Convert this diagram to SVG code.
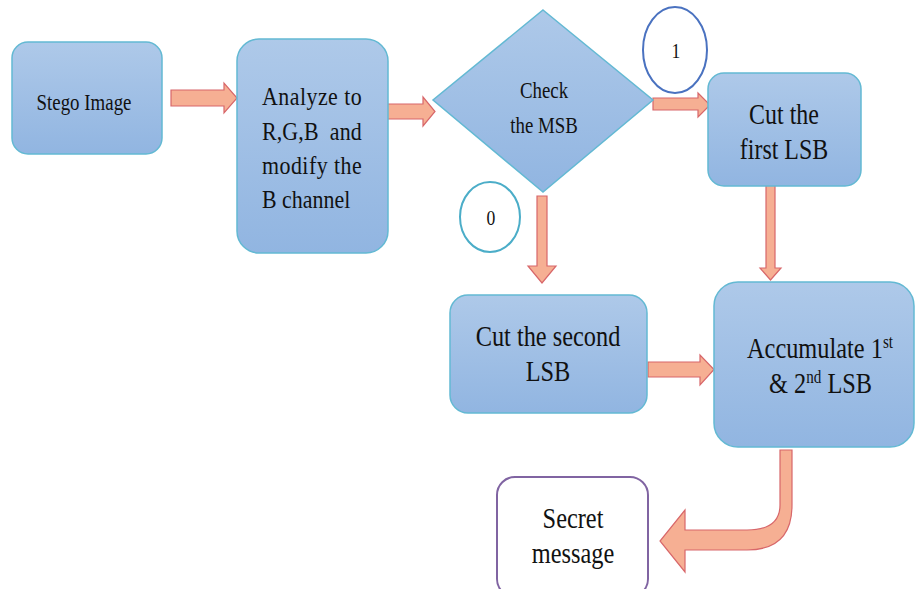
<svg xmlns="http://www.w3.org/2000/svg" width="915" height="589" viewBox="0 0 915 589">
<defs>
<linearGradient id="g" x1="0" y1="0" x2="0" y2="1">
<stop offset="0" stop-color="#AEC9E9"/>
<stop offset="1" stop-color="#91B5E1"/>
</linearGradient>
<style>
.box{fill:url(#g);stroke:#63B9D3;stroke-width:1.5}
.arr{fill:#F6AF93;stroke:#D8676A;stroke-width:1.2}
</style>
</defs>
<rect width="915" height="589" fill="#fff"/>
<g id="connectors">
<path class="arr" d="M171,90 L224,90 L224,83 L237,98 L224,113 L224,106 L171,106 Z"/>
<path class="arr" d="M385,104 L423,104 L423,97 L435,111.5 L423,126 L423,119 L385,119 Z"/>
<path class="arr" d="M653,98 L698,98 L698,93 L710,105 L698,117 L698,110 L653,110 Z"/>
<path class="arr" d="M537,196 L547,196 L547,266 L556,266 L542,283 L528,266 L537,266 Z"/>
<path class="arr" d="M766,184 L775,184 L775,268 L781,268 L770.5,280 L760,268 L766,268 Z"/>
<path class="arr" d="M648,362 L700,362 L700,355 L714,369.5 L700,385 L700,377 L648,377 Z"/>
<path class="arr" d="M780,450 L792,450 L792,505 Q792,550 747,550 L685,550 L685,572 L660,541 L685,510 L685,530 L747,530 Q780,530 780,505 Z"/>
</g>
<g id="stego">
<rect class="box" x="12" y="42" width="150" height="112" rx="16"/>
<text style="font-family:'Liberation Serif',serif;text-anchor:middle;fill:#111" transform="matrix(0.84 0 0 1 84 0)" x="0" y="110" font-size="22.5">Stego Image</text>
</g>
<g id="analyze">
<rect class="box" x="237" y="39" width="151" height="214" rx="22"/>
<text style="font-family:'Liberation Serif',serif;fill:#111" transform="matrix(0.86 0 0 1 262 0)" x="0" y="105" font-size="25.5" textLength="116" lengthAdjust="spacing">Analyze to</text>
<text style="font-family:'Liberation Serif',serif;fill:#111" transform="matrix(0.86 0 0 1 262 0)" x="0" y="140" font-size="25.5" textLength="116" lengthAdjust="spacing" xml:space="preserve">R,G,B  and</text>
<text style="font-family:'Liberation Serif',serif;fill:#111" transform="matrix(0.86 0 0 1 262 0)" x="0" y="174" font-size="25.5" textLength="116" lengthAdjust="spacing">modify the</text>
<text style="font-family:'Liberation Serif',serif;fill:#111" transform="matrix(0.86 0 0 1 262 0)" x="0" y="208" font-size="25.5">B channel</text>
</g>
<g id="check">
<polygon class="box" points="543,10 653,100 543,192 433,100"/>
<text style="font-family:'Liberation Serif',serif;text-anchor:middle;fill:#111" transform="matrix(0.82 0 0 1 544 0)" x="0" y="98" font-size="23">Check</text>
<text style="font-family:'Liberation Serif',serif;text-anchor:middle;fill:#111" transform="matrix(0.82 0 0 1 544 0)" x="0" y="133" font-size="23">the MSB</text>
</g>
<g id="label1">
<ellipse cx="675" cy="50" rx="32" ry="43" fill="#fff" stroke="#4A72C0" stroke-width="2"/>
<text style="font-family:'Liberation Serif',serif;text-anchor:middle;fill:#111" transform="matrix(0.84 0 0 1 676 0)" x="0" y="58" font-size="21">1</text>
</g>
<g id="label0">
<ellipse cx="490" cy="217" rx="30" ry="35" fill="#fff" stroke="#4BADC8" stroke-width="2"/>
<text style="font-family:'Liberation Serif',serif;text-anchor:middle;fill:#111" transform="matrix(0.84 0 0 1 491 0)" x="0" y="225" font-size="21">0</text>
</g>
<g id="cutfirst">
<rect class="box" x="708" y="73" width="153" height="113" rx="16"/>
<text style="font-family:'Liberation Serif',serif;text-anchor:middle;fill:#111" transform="matrix(0.84 0 0 1 784 0)" x="0" y="124" font-size="28.5">Cut the</text>
<text style="font-family:'Liberation Serif',serif;text-anchor:middle;fill:#111" transform="matrix(0.84 0 0 1 784 0)" x="0" y="159" font-size="28.5">first LSB</text>
</g>
<g id="cutsecond">
<rect class="box" x="450" y="295" width="197" height="118" rx="18"/>
<text style="font-family:'Liberation Serif',serif;text-anchor:middle;fill:#111" transform="matrix(0.84 0 0 1 548 0)" x="0" y="346" font-size="29">Cut the second</text>
<text style="font-family:'Liberation Serif',serif;text-anchor:middle;fill:#111" transform="matrix(0.84 0 0 1 548 0)" x="0" y="381" font-size="29">LSB</text>
</g>
<g id="accumulate">
<rect class="box" x="714" y="282" width="200" height="165" rx="24"/>
<text style="font-family:'Liberation Serif',serif;fill:#111" transform="matrix(0.84 0 0 1 747 0)" x="0" y="358" font-size="29">Accumulate 1<tspan font-size="18" dy="-10">st</tspan></text>
<text style="font-family:'Liberation Serif',serif;fill:#111" transform="matrix(0.84 0 0 1 769 0)" x="0" y="393" font-size="29">&amp; 2<tspan font-size="18" dy="-10">nd</tspan><tspan dy="10"> LSB</tspan></text>
</g>
<g id="secret">
<rect x="497" y="477" width="151" height="120" rx="18" fill="#fff" stroke="#8064A2" stroke-width="2"/>
<text style="font-family:'Liberation Serif',serif;text-anchor:middle;fill:#111" transform="matrix(0.84 0 0 1 573 0)" x="0" y="528" font-size="29">Secret</text>
<text style="font-family:'Liberation Serif',serif;text-anchor:middle;fill:#111" transform="matrix(0.84 0 0 1 573 0)" x="0" y="563" font-size="29">message</text>
</g>
</svg>
